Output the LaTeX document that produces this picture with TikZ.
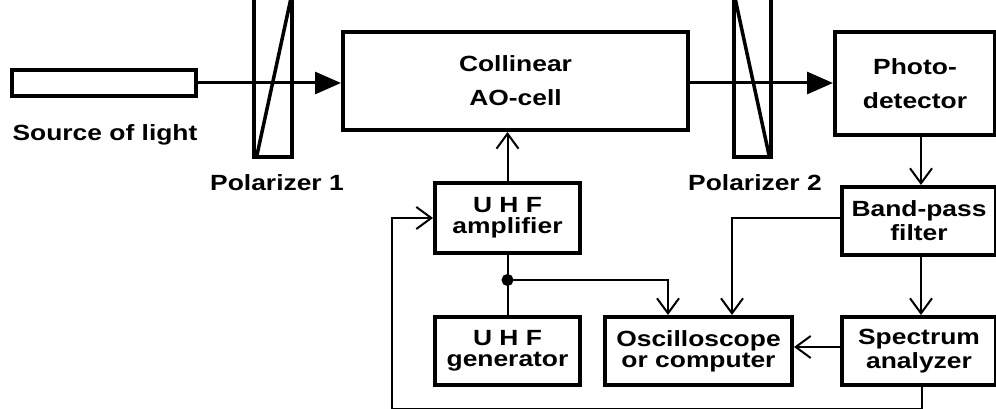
\documentclass[tikz,border=0pt]{standalone}
\usepackage{fontspec}
\setmainfont{Liberation Sans}[FakeStretch=1.2]
\usetikzlibrary{arrows.meta}
\tikzset{
  boxa/.style={draw, line width=4pt, inner sep=0pt, align=center, font=\bfseries\fontsize{22}{34}\selectfont},
  boxb/.style={draw, line width=4pt, inner sep=0pt, align=center, font=\bfseries\fontsize{22}{21}\selectfont},
  boxc/.style={draw, line width=4pt, inner sep=0pt, align=center, font=\bfseries\fontsize{22}{24}\selectfont},
  lbl/.style={inner sep=0pt, anchor=base, font=\bfseries\fontsize{22}{26}\selectfont},
  beam/.style={line width=3pt, -{Triangle[length=26pt,width=22pt]}},
  conn/.style={line width=2pt, -{Straight Barb[length=15pt,width=22pt]}},
  wire/.style={line width=2pt},
  pol/.style={line width=3.5pt},
  jdot/.style={circle, draw, fill, line width=1pt, inner sep=0pt, minimum size=11pt}
}
\begin{document}
\begin{tikzpicture}[x=1pt,y=-1pt]
\useasboundingbox (0,0) rectangle (996,409);
% boxes
\node[draw, line width=3.5pt, inner sep=0pt, minimum width=184pt, minimum height=26pt] (src) at (104,83) {};
\node[boxa, minimum width=345pt, minimum height=98pt] (ao) at (515.5,81) {Collinear\\AO-cell};
\node[boxa, minimum width=160pt, minimum height=103pt] (pd) at (915,83.5) {Photo-\\detector};
\node[boxc, minimum width=154pt, minimum height=68pt] (bp) at (919,221) {Band-pass\\filter};
\node[boxc, minimum width=154pt, minimum height=68pt] (sa) at (919,351) {Spectrum\\analyzer};
\node[boxb, minimum width=187pt, minimum height=68pt] (osc) at (698.5,351) {Oscilloscope\\or computer};
\node[boxb, minimum width=145pt, minimum height=70pt] (amp) at (507.5,218) {U H F\\amplifier};
\node[boxb, minimum width=145pt, minimum height=68pt] (gen) at (507.5,351) {U H F\\generator};
% labels
\node[lbl] (srclbl) at (105,141) {Source of light};
\node[lbl] (p1lbl) at (277,190) {Polarizer 1};
\node[lbl] (p2lbl) at (755,190) {Polarizer 2};
% polarizers
\draw[pol] (254,-4) rectangle (292,157);
\draw[pol] (257,155) -- (291,-2);
\draw[pol] (734,-4) rectangle (771,157);
\draw[pol] (735,-2) -- (769,155);
% light beam
\draw[beam] (src.east) -- (src.east -| ao.west);
\draw[beam] (src.east -| ao.east) -- (src.east -| pd.west);
% connectors
\draw[conn] (amp.north) -- (amp.north |- ao.south);
\draw[conn] ([xshift=6pt]pd.south) -- ([xshift=2pt]bp.north);
\draw[conn] ([xshift=2pt]bp.south) -- ([xshift=2pt]sa.north);
\draw[conn] ([yshift=3pt]bp.west) -| ([xshift=33.5pt]osc.north);
\draw[conn] ([yshift=4pt]sa.west) -- ([yshift=4pt]sa.west -| osc.east);
\draw[wire] (amp.south) -- (gen.north);
\node[jdot] (j) at (507.5,280) {};
\draw[conn] (j.center) -| ([xshift=-30.5pt]osc.north);
\draw[conn] ([xshift=3pt]sa.south) -- ++(0,22) -| ([xshift=-41pt]amp.west) -- (amp.west);
\end{tikzpicture}
\end{document}
